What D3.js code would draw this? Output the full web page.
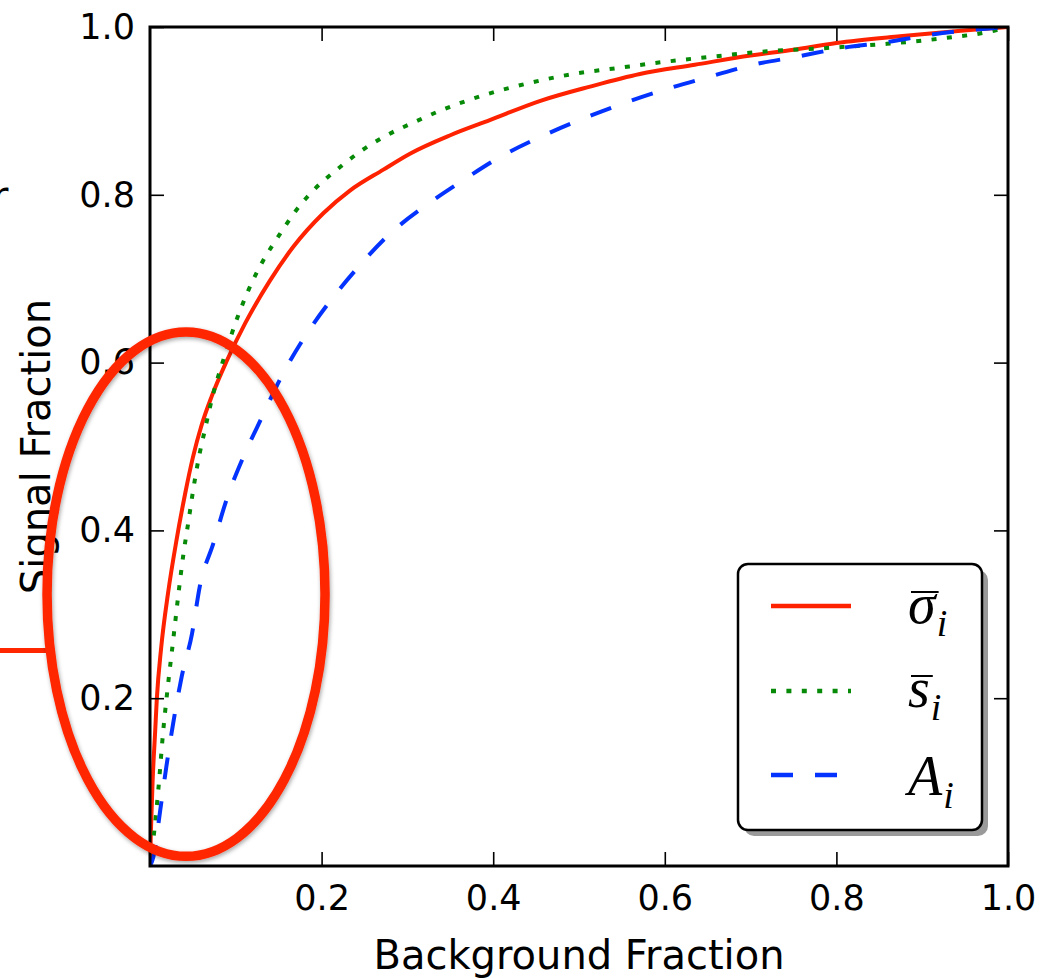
<!DOCTYPE html>
<html>
<head>
<meta charset="utf-8">
<script src="https://cdn.jsdelivr.net/npm/d3@7"></script>
<style>
  html, body { margin: 0; padding: 0; background: #fff; }
  svg { display: block; }
</style>
</head>
<body>
<div id="chart"></div>
<script>
// tick values / labels
const xTickValues = [0.2, 0.4, 0.6, 0.8, 1.0];
const yTickValues = [0.2, 0.4, 0.6, 0.8, 1.0];
const xLabel = 'Background Fraction';
const yLabel = 'Signal Fraction';

// curves: [background fraction, signal fraction]
const sigmaCurve = [[0, 0], [0.001, 0.04], [0.003, 0.1], [0.006, 0.16], [0.008, 0.2], [0.013, 0.26],
    [0.021, 0.325], [0.031, 0.389], [0.041, 0.444], [0.05, 0.487], [0.06, 0.525], [0.072, 0.56],
    [0.089, 0.601], [0.111, 0.647], [0.14, 0.698], [0.167, 0.738], [0.202, 0.778], [0.233, 0.805],
    [0.272, 0.83], [0.303, 0.849], [0.35, 0.871], [0.396, 0.889], [0.455, 0.912], [0.513, 0.929],
    [0.571, 0.944], [0.635, 0.955], [0.7, 0.966], [0.75, 0.973], [0.8, 0.981], [0.874, 0.989],
    [0.952, 0.996], [1, 1]];

const sCurve = [[0, 0], [0.0047, 0.039], [0.0097, 0.091], [0.0155, 0.162], [0.021, 0.216], [0.027, 0.269],
    [0.033, 0.323], [0.039, 0.372], [0.045, 0.412], [0.05, 0.446], [0.056, 0.482], [0.064, 0.52],
    [0.073, 0.56], [0.086, 0.605], [0.102, 0.654], [0.115, 0.687], [0.131, 0.72], [0.15, 0.751],
    [0.17, 0.781], [0.193, 0.808], [0.219, 0.831], [0.247, 0.853], [0.276, 0.871], [0.309, 0.887],
    [0.34, 0.901], [0.39, 0.919], [0.441, 0.933], [0.493, 0.944], [0.544, 0.951], [0.596, 0.958],
    [0.649, 0.964], [0.719, 0.971], [0.789, 0.975], [0.859, 0.98], [0.928, 0.987], [0.981, 0.995], [1, 1]];

const aCurve = [[0, 0], [0.004, 0.011], [0.012, 0.067], [0.019, 0.118], [0.027, 0.17], [0.037, 0.226],
    [0.049, 0.277], [0.058, 0.333], [0.074, 0.385], [0.089, 0.436], [0.109, 0.488], [0.13, 0.534],
    [0.153, 0.583], [0.178, 0.627], [0.209, 0.672], [0.242, 0.713], [0.277, 0.751], [0.328, 0.792],
    [0.363, 0.816], [0.408, 0.845], [0.455, 0.869], [0.503, 0.89], [0.552, 0.909], [0.602, 0.926],
    [0.653, 0.941], [0.703, 0.955], [0.756, 0.965], [0.806, 0.975], [0.859, 0.982], [0.911, 0.991],
    [0.963, 0.997], [1, 1]];

// legend symbols (letter, overbar, subscript)
const legendLetters = ['σ', 's', 'A'];
const legendBars = [true, true, false];
const legendSub = 'i';

const width = 1048, height = 978;
const margin = {top: 27, right: 40, bottom: 112, left: 150};
const sansFont = "'DejaVu Sans', sans-serif";
const mathFont = "'Liberation Serif', 'DejaVu Serif', serif";

const series = [
    {data: sigmaCurve, color: '#ff2200', dash: null},
    {data: sCurve, color: '#078a07', dash: '5,10.4'},
    {data: aCurve, color: '#0433ff', dash: '22,22'}
];

const svg = d3.select('#chart').append('svg')
    .attr('width', width)
    .attr('height', height);

const defs = svg.append('defs');
defs.append('clipPath').attr('id', 'plotClip')
    .append('rect')
    .attr('x', margin.left).attr('y', margin.top)
    .attr('width', width - margin.left - margin.right)
    .attr('height', height - margin.top - margin.bottom);
const shadow = defs.append('filter').attr('id', 'softShadow')
    .attr('x', '-20%').attr('y', '-20%').attr('width', '140%').attr('height', '140%');
shadow.append('feDropShadow')
    .attr('dx', 1).attr('dy', 2).attr('stdDeviation', 2)
    .attr('flood-color', '#000').attr('flood-opacity', 0.35);

const xScale = d3.scaleLinear().domain([0, 1]).range([margin.left, width - margin.right]);
const yScale = d3.scaleLinear().domain([0, 1]).range([height - margin.bottom, margin.top]);

// curves
const line = d3.line()
    .x(d => xScale(d[0]))
    .y(d => yScale(d[1]))
    .curve(d3.curveMonotoneX);

const curveGroup = svg.append('g').attr('clip-path', 'url(#plotClip)');
series.forEach(s => {
    curveGroup.append('path')
        .datum(s.data)
        .attr('d', line)
        .attr('fill', 'none')
        .attr('stroke', s.color)
        .attr('stroke-width', 4)
        .attr('stroke-dasharray', s.dash)
        .attr('stroke-linejoin', 'round');
});

// axes: inward ticks on all four sides
const fmt = d3.format('.1f');
const tickLen = 14;
const xAxis = svg.append('g')
    .attr('transform', `translate(0,${yScale(0)})`)
    .call(d3.axisBottom(xScale).tickValues(xTickValues).tickFormat(fmt)
        .tickSizeInner(-tickLen).tickSizeOuter(0).tickPadding(19));
const yAxis = svg.append('g')
    .attr('transform', `translate(${xScale(0)},0)`)
    .call(d3.axisLeft(yScale).tickValues(yTickValues).tickFormat(fmt)
        .tickSizeInner(-tickLen).tickSizeOuter(0).tickPadding(15));
const xAxisTop = svg.append('g')
    .attr('transform', `translate(0,${yScale(1)})`)
    .call(d3.axisTop(xScale).tickValues(xTickValues).tickFormat('')
        .tickSizeInner(-tickLen).tickSizeOuter(0));
const yAxisRight = svg.append('g')
    .attr('transform', `translate(${xScale(1)},0)`)
    .call(d3.axisRight(yScale).tickValues(yTickValues).tickFormat('')
        .tickSizeInner(-tickLen).tickSizeOuter(0));

[xAxis, yAxis, xAxisTop, yAxisRight].forEach(ax => {
    ax.select('.domain').remove();
    ax.selectAll('.tick line').attr('stroke', '#000').attr('stroke-width', 1.6);
    ax.selectAll('.tick text')
        .style('font-family', sansFont)
        .style('font-size', '35px')
        .attr('fill', '#000');
});

// frame
svg.append('rect')
    .attr('x', xScale(0)).attr('y', yScale(1))
    .attr('width', xScale(1) - xScale(0))
    .attr('height', yScale(0) - yScale(1))
    .attr('fill', 'none')
    .attr('stroke', '#000')
    .attr('stroke-width', 3);

// axis labels
svg.append('text')
    .attr('x', (xScale(0) + xScale(1)) / 2)
    .attr('y', 969)
    .attr('text-anchor', 'middle')
    .style('font-family', sansFont)
    .style('font-size', '40px')
    .text(xLabel);
svg.append('text')
    .attr('transform', `translate(50,${(yScale(0) + yScale(1)) / 2}) rotate(-90)`)
    .attr('text-anchor', 'middle')
    .style('font-family', sansFont)
    .style('font-size', '40px')
    .text(yLabel);
// fragment of a word cut by the left edge (as in the source picture)
svg.append('text')
    .attr('x', -8).attr('y', 210)
    .style('font-family', sansFont)
    .style('font-size', '40px')
    .text('r');

// legend
const legendBox = {x: 738, y: 564, w: 244, h: 266};
const legend = svg.append('g');
legend.append('rect')
    .attr('x', legendBox.x + 6).attr('y', legendBox.y + 6)
    .attr('width', legendBox.w).attr('height', legendBox.h)
    .attr('rx', 10)
    .attr('fill', '#9a9a9a');
legend.append('rect')
    .attr('x', legendBox.x).attr('y', legendBox.y)
    .attr('width', legendBox.w).attr('height', legendBox.h)
    .attr('rx', 10)
    .attr('fill', '#fff')
    .attr('stroke', '#000')
    .attr('stroke-width', 2.5);

const rowY = [606, 691, 775];
const baseOffset = [17, 16, 20];
series.forEach((s, i) => {
    legend.append('line')
        .attr('x1', 771).attr('x2', 851)
        .attr('y1', rowY[i]).attr('y2', rowY[i])
        .attr('stroke', s.color)
        .attr('stroke-width', 4.5)
        .attr('stroke-dasharray', s.dash);

    const baseY = rowY[i] + baseOffset[i];
    const letter = legend.append('text')
        .attr('x', 908).attr('y', baseY)
        .style('font-family', mathFont)
        .style('font-style', 'italic')
        .style('font-size', '56px')
        .text(legendLetters[i]);
    const w = letter.node().getComputedTextLength();
    if (legendBars[i]) {
        legend.append('line')
            .attr('x1', 911).attr('x2', 908 + w + 3)
            .attr('y1', baseY - 31).attr('y2', baseY - 31)
            .attr('stroke', '#000')
            .attr('stroke-width', 2);
    }
    legend.append('text')
        .attr('x', 908 + w + 1).attr('y', baseY + 13)
        .style('font-family', mathFont)
        .style('font-style', 'italic')
        .style('font-size', '38px')
        .text(legendSub);
});

// hand-drawn style annotation (data coordinates)
const ring = {cx: 0.042, cy: 0.324, rx: 0.162, ry: 0.3125};
const ringColor = '#ff2600';
svg.append('line')
    .attr('x1', 0).attr('x2', xScale(ring.cx - ring.rx) + 2)
    .attr('y1', yScale(0.257)).attr('y2', yScale(0.257))
    .attr('stroke', ringColor)
    .attr('stroke-width', 5);
svg.append('ellipse')
    .attr('cx', xScale(ring.cx))
    .attr('cy', yScale(ring.cy))
    .attr('rx', xScale(ring.rx) - xScale(0))
    .attr('ry', yScale(0) - yScale(ring.ry))
    .attr('fill', 'none')
    .attr('stroke', ringColor)
    .attr('stroke-width', 9.5)
    .attr('filter', 'url(#softShadow)');
</script>
</body>
</html>
